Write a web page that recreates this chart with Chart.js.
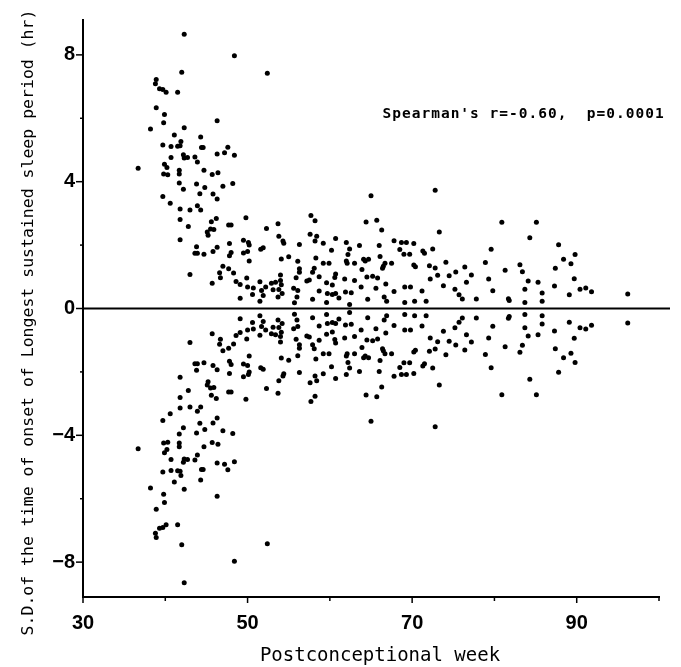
<!DOCTYPE html>
<html>
<head>
<meta charset="utf-8">
<script src="https://cdn.jsdelivr.net/npm/chart.js@4"></script>
<style>
  body { margin: 0; background: #fff; }
  #wrap { width: 681px; height: 667px; }
</style>
</head>
<body>
<div id="wrap"><canvas id="scatter"></canvas></div>
<script>
// postconceptional week of each infant record
const weeks = [
  42.3, 48.4, 42.0, 52.4, 38.9, 38.8, 39.3, 39.7, 40.1, 41.5, 38.9, 39.9, 39.8, 38.2, 42.3, 46.3,
  41.1, 44.3, 41.9, 39.7, 40.7, 41.5, 41.8, 44.4, 44.6, 47.6, 46.3, 47.2, 48.4, 40.7, 42.2, 42.3,
  42.7, 43.6, 43.9, 39.9,
  36.7, 40.2, 39.8, 40.3, 41.7, 41.7, 44.7, 45.7, 46.4, 41.7, 42.2, 43.8, 44.8, 44.2, 45.8, 46.3,
  47.0, 48.2, 39.7, 40.6, 41.8, 43.0, 43.9, 44.3, 41.8, 42.8, 45.6, 46.2, 47.7, 48.0, 49.8, 45.5,
  45.9, 45.1, 45.2, 41.8, 43.8, 43.6, 43.9, 44.7, 45.8, 46.3, 47.8, 47.8, 48.0, 49.5, 49.5, 50.0,
  50.1, 50.2, 43.0, 47.0, 46.6, 46.7, 47.7, 48.3, 48.6, 49.1, 49.9, 50.0, 45.7, 49.1,
  52.3, 53.7, 57.7, 58.2, 53.8, 54.3, 54.4, 57.6, 58.4, 58.2, 59.2, 60.7, 62.0, 50.2, 51.6, 51.9,
  56.3, 60.2, 54.1, 55.0, 56.1, 58.3, 59.2, 59.9, 62.0, 56.3, 56.3, 58.1, 57.9, 54.0, 55.9, 58.7,
  60.7, 60.6, 51.5, 52.9, 53.4, 54.0, 54.1, 57.2, 57.5, 59.6, 60.3, 61.8, 50.7, 52.2, 51.7, 51.9,
  51.5, 53.1, 53.8, 54.2, 55.6, 56.1, 50.6, 53.7, 56.0, 55.7, 57.9, 58.7, 59.7, 60.3, 60.7, 59.6,
  61.9, 61.1,
  65.0, 72.8, 64.4, 65.7, 66.3, 73.3, 62.4, 62.2, 63.6, 66.0, 67.8, 68.7, 69.3, 70.2, 68.5, 69.0,
  69.7, 71.3, 71.5, 72.5, 62.1, 63.0, 64.1, 64.7, 64.3, 63.9, 66.1, 66.7, 66.5, 66.4, 67.5, 70.2,
  70.4, 72.1, 72.8, 63.0, 64.5, 65.2, 65.8, 72.2, 73.1, 62.6, 63.8, 65.6, 66.8, 69.1, 69.8, 67.8,
  71.2, 62.4, 64.6, 66.6, 66.9, 69.1, 70.3, 71.7,
  80.9, 85.1, 84.3, 79.6, 74.1, 78.9, 83.1, 76.4, 81.3, 83.4, 74.5, 75.3, 77.2, 76.6, 79.3, 84.1,
  73.8, 75.2, 79.8, 83.7, 75.7, 76.1, 77.8, 81.7, 81.8, 83.7,
  87.8, 89.8, 88.4, 89.3, 87.4, 89.7, 85.3, 87.3, 90.4, 91.1, 91.8, 85.8, 89.1, 85.8, 96.2
];
// S.D. in hours; the figure shows every value as +S.D. and -S.D.
const sdHours = [
  8.65, 7.97, 7.45, 7.42, 7.22, 7.09, 6.93, 6.91, 6.82, 6.82, 6.33, 6.12, 5.86, 5.66, 5.70, 5.92,
  5.47, 5.41, 5.27, 5.16, 5.11, 5.12, 5.13, 5.08, 5.08, 5.09, 4.87, 4.91, 4.83, 4.76, 4.85, 4.75,
  4.76, 4.78, 4.62, 4.55,
  4.42, 4.45, 4.24, 4.22, 4.36, 4.24, 4.36, 4.23, 4.28, 3.96, 3.76, 3.93, 3.82, 3.62, 3.61, 3.45,
  3.86, 3.94, 3.53, 3.32, 3.14, 3.11, 3.24, 3.11, 2.81, 2.59, 2.74, 2.84, 2.63, 2.63, 2.86, 2.51,
  2.49, 2.41, 2.31, 2.17, 1.95, 1.74, 1.74, 1.71, 1.80, 1.93, 2.05, 1.66, 1.77, 2.15, 1.75, 1.80,
  2.08, 1.50, 1.07, 1.33, 1.13, 0.97, 1.25, 1.12, 0.85, 0.76, 0.96, 0.68, 0.80, 0.32,
  2.52, 2.67, 2.93, 2.77, 2.28, 2.13, 2.06, 2.34, 2.28, 2.13, 2.06, 2.21, 2.08, 2.00, 1.87, 1.92,
  2.02, 1.84, 1.56, 1.63, 1.49, 1.59, 1.43, 1.43, 1.50, 1.25, 1.14, 1.27, 1.14, 1.06, 0.97, 1.00,
  1.09, 0.98, 0.84, 0.80, 0.83, 0.88, 0.75, 0.87, 0.90, 0.81, 0.74, 0.93, 0.65, 0.68, 0.57, 0.41,
  0.23, 0.59, 0.60, 0.47, 0.64, 0.57, 0.44, 0.36, 0.36, 0.18, 0.29, 0.55, 0.47, 0.44, 0.47, 0.19,
  0.52, 0.33,
  3.56, 3.73, 2.73, 2.78, 2.48, 2.41, 1.88, 1.70, 1.99, 1.99, 2.14, 2.08, 2.08, 2.05, 1.86, 1.71,
  1.71, 1.81, 1.74, 1.88, 1.43, 1.43, 1.55, 1.55, 1.50, 1.23, 1.64, 1.43, 1.33, 1.27, 1.43, 1.37,
  1.32, 1.35, 1.28, 0.88, 0.99, 1.02, 0.96, 0.93, 1.05, 0.50, 0.68, 0.64, 0.77, 0.68, 0.68, 0.54,
  0.55, 0.13, 0.29, 0.36, 0.23, 0.19, 0.23, 0.23,
  2.72, 2.72, 2.23, 1.87, 1.46, 1.45, 1.38, 1.31, 1.21, 1.16, 1.03, 1.15, 1.06, 0.83, 0.93, 0.87,
  0.72, 0.61, 0.56, 0.61, 0.43, 0.30, 0.30, 0.31, 0.25, 0.19,
  2.01, 1.70, 1.55, 1.41, 1.27, 0.94, 0.83, 0.71, 0.61, 0.65, 0.53, 0.49, 0.43, 0.23, 0.46
];

const xTicks = [30, 50, 70, 90];
const xMinorTicks = [40, 60, 80, 100];
const yTicks = [-8, -4, 0, 4, 8];
const yMinorTicks = [-6, -2, 2, 6];

const xTitle = 'Postconceptional week';
const yTitle = 'S.D.of the time of onset of Longest sustained sleep period (hr)';
const statNote = "Spearman's r=-0.60,  p=0.0001";

const points = [];
weeks.forEach(function (w, i) {
    points.push({ x: w, y: sdHours[i] });
    points.push({ x: w, y: -sdHours[i] });
});

// tick marks, zero line, axis titles and the stats note
const extras = {
    id: 'extras',
    beforeDatasetsDraw(chart) {
        const ctx = chart.ctx;
        const xs = chart.scales.x;
        const ys = chart.scales.y;
        ctx.save();
        ctx.strokeStyle = '#000';

        function seg(x1, y1, x2, y2) {
            ctx.beginPath();
            ctx.moveTo(x1, y1);
            ctx.lineTo(x2, y2);
            ctx.stroke();
        }

        ctx.lineWidth = 2;
        const y0 = ys.getPixelForValue(0);
        seg(xs.left, y0, xs.right + 11, y0);

        ctx.lineWidth = 1.5;
        yTicks.forEach(v => { const p = ys.getPixelForValue(v); seg(xs.left - 7, p, xs.left, p); });
        yMinorTicks.forEach(v => { const p = ys.getPixelForValue(v); seg(xs.left - 3, p, xs.left, p); });
        xTicks.forEach(v => { const p = xs.getPixelForValue(v); seg(p, ys.bottom, p, ys.bottom + 6); });
        xMinorTicks.forEach(v => { const p = xs.getPixelForValue(v); seg(p, ys.bottom, p, ys.bottom + 4); });

        ctx.fillStyle = '#000';
        ctx.textAlign = 'center';
        ctx.textBaseline = 'alphabetic';
        ctx.font = '19px "DejaVu Sans Mono"';
        ctx.fillText(xTitle, (xs.left + xs.right) / 2 + 9, 661);

        ctx.save();
        ctx.translate(33, (ys.top + ys.bottom) / 2 + 14);
        ctx.rotate(-Math.PI / 2);
        ctx.font = '16.5px "DejaVu Sans Mono"';
        ctx.fillText(yTitle, 0, 0);
        ctx.restore();

        ctx.textAlign = 'left';
        ctx.font = 'bold 14.5px "DejaVu Sans Mono"';
        ctx.letterSpacing = '1px';
        ctx.fillText(statNote, xs.getPixelForValue(66.4), ys.getPixelForValue(6.0));
        ctx.restore();
    }
};

function minusLabel(v) {
    return v < 0 ? '\u2212' + Math.abs(v) : String(v);
}

new Chart(document.getElementById('scatter'), {
    type: 'scatter',
    data: {
        datasets: [{
            data: points,
            pointRadius: 2.5,
            pointBackgroundColor: '#000',
            pointBorderWidth: 0
        }]
    },
    options: {
        responsive: true,
        maintainAspectRatio: false,
        animation: false,
        layout: { padding: { top: 13, right: 22, left: 0, bottom: 0 } },
        plugins: {
            legend: { display: false },
            tooltip: { enabled: false }
        },
        scales: {
            x: {
                type: 'linear',
                min: 30,
                max: 100,
                afterFit: s => { s.height = 70; },
                afterBuildTicks: s => { s.ticks = xTicks.map(v => ({ value: v })); },
                grid: { display: false, drawTicks: false },
                border: { color: '#000', width: 2 },
                ticks: {
                    color: '#000',
                    autoSkip: false,
                    maxRotation: 0,
                    padding: 14,
                    font: { family: 'Liberation Sans', size: 20, weight: 'bold' }
                }
            },
            y: {
                type: 'linear',
                min: -9.1,
                max: 9.1,
                afterFit: s => { s.width = 83; },
                afterBuildTicks: s => { s.ticks = yTicks.map(v => ({ value: v })); },
                grid: { display: false, drawTicks: false },
                border: { color: '#000', width: 2 },
                ticks: {
                    color: '#000',
                    padding: 8,
                    callback: minusLabel,
                    font: { family: 'Liberation Sans', size: 20, weight: 'bold' }
                }
            }
        }
    },
    plugins: [extras]
});
</script>
</body>
</html>
